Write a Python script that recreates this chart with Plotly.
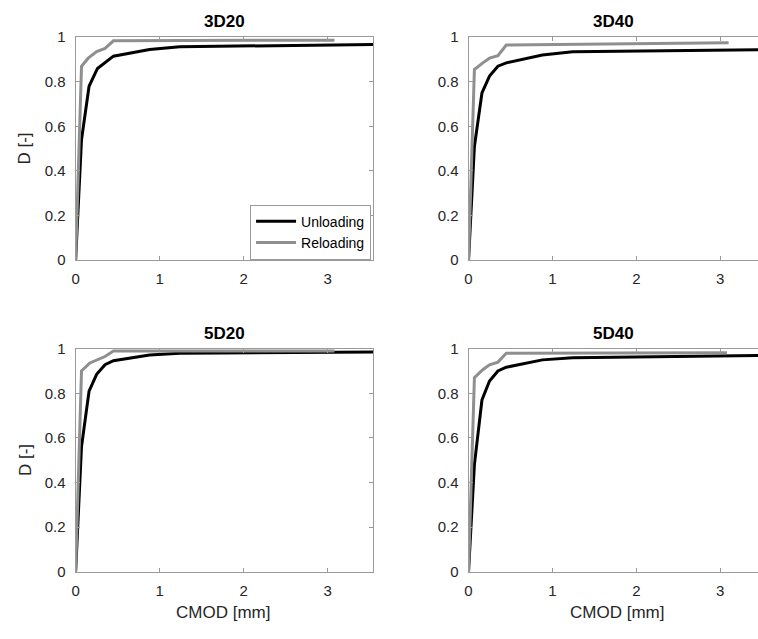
import plotly.graph_objects as go

W, H = 758, 639

titles = ["3D20", "3D40", "5D20", "5D40"]

# Unloading (black) curves
unl_x = [
    [0, 0.07, 0.16, 0.26, 0.45, 0.88, 1.24, 3.6],
    [0, 0.07, 0.16, 0.25, 0.35, 0.45, 0.88, 1.24, 3.6],
    [0, 0.07, 0.16, 0.25, 0.35, 0.45, 0.88, 1.24, 3.6],
    [0, 0.07, 0.16, 0.25, 0.35, 0.45, 0.88, 1.24, 3.6],
]
unl_y = [
    [0, 0.54, 0.78, 0.86, 0.915, 0.945, 0.957, 0.968],
    [0, 0.51, 0.75, 0.826, 0.87, 0.885, 0.92, 0.935, 0.945],
    [0, 0.56, 0.81, 0.885, 0.928, 0.946, 0.972, 0.98, 0.985],
    [0, 0.48, 0.77, 0.855, 0.90, 0.917, 0.95, 0.96, 0.97],
]
# Reloading (gray) curves
rel_x = [
    [0, 0.07, 0.15, 0.25, 0.35, 0.45, 3.08],
    [0, 0.07, 0.17, 0.25, 0.35, 0.45, 3.10],
    [0, 0.07, 0.17, 0.25, 0.35, 0.45, 3.08],
    [0, 0.07, 0.17, 0.25, 0.35, 0.45, 3.08],
]
rel_y = [
    [0, 0.87, 0.906, 0.936, 0.95, 0.984, 0.987],
    [0, 0.855, 0.885, 0.906, 0.917, 0.965, 0.975],
    [0, 0.90, 0.936, 0.95, 0.965, 0.99, 0.99],
    [0, 0.87, 0.906, 0.928, 0.94, 0.98, 0.982],
]

x_ticks = [0, 1, 2, 3]
y_ticks = [0, 0.2, 0.4, 0.6, 0.8, 1]
y_tick_text = ["0", "0.2", "0.4", "0.6", "0.8", "1"]

# pixel boxes (left, right, top, bottom)
boxes = [(72, 371, 29, 258), (467, 758, 29, 258), (72, 371, 349, 578), (467, 758, 349, 578)]
xranges = [[0, 3.54], [0, 3.45], [0, 3.54], [0, 3.45]]

BLACK = "#000000"
GRAY = "#8f8f8f"
AX = "#9a9a9a"
TXT = "#262626"
FONT = "Liberation Sans"

fig = go.Figure()
annotations = []
for i in range(4):
    l, r, t, b = boxes[i]
    xs = "x" if i == 0 else f"x{i+1}"
    ys = "y" if i == 0 else f"y{i+1}"
    fig.add_trace(go.Scatter(x=unl_x[i], y=unl_y[i], mode="lines", name="Unloading",
                             line=dict(color=BLACK, width=3), xaxis=xs, yaxis=ys,
                             showlegend=(i == 0)))
    fig.add_trace(go.Scatter(x=rel_x[i], y=rel_y[i], mode="lines", name="Reloading",
                             line=dict(color=GRAY, width=3), xaxis=xs, yaxis=ys,
                             showlegend=(i == 0)))
    right = i in (1, 3)
    xa = dict(domain=[l / W, r / W], range=xranges[i], anchor=ys,
              tickvals=x_ticks, ticks="inside", ticklen=4, tickcolor=AX,
              showline=True, linecolor=AX, linewidth=1, mirror="ticks",
              showgrid=False, zeroline=False, ticklabelstandoff=5,
              tickfont=dict(family=FONT, size=15, color=TXT))
    ya = dict(domain=[1 - b / H, 1 - t / H], range=[0, 1], anchor=xs,
              tickvals=y_ticks, ticktext=y_tick_text, ticks="inside", ticklen=4,
              tickcolor=AX, showline=True, linecolor=AX, linewidth=1,
              mirror=(False if right else "ticks"),
              showgrid=False, zeroline=False, ticklabelstandoff=6,
              tickfont=dict(family=FONT, size=15, color=TXT))
    key = "" if i == 0 else str(i + 1)
    fig.update_layout(**{f"xaxis{key}": xa, f"yaxis{key}": ya})
    cx = (l + r) / 2 if not right else 613
    annotations.append(dict(text=f"<b>{titles[i]}</b>", x=cx / W, y=1 - (t - 16) / H,
                            xref="paper", yref="paper", showarrow=False,
                            font=dict(family=FONT, size=17, color="#000000"),
                            xanchor="center", yanchor="middle"))
    if i in (0, 2):
        annotations.append(dict(text="D [-]", x=21 / W, y=1 - ((t + b) / 2) / H,
                                xref="paper", yref="paper", showarrow=False, textangle=-90,
                                font=dict(family=FONT, size=17, color=TXT),
                                xanchor="center", yanchor="middle"))
    if i in (2, 3):
        annotations.append(dict(text="CMOD [mm]", x=(220 if i == 2 else 616) / W,
                                y=1 - 620 / H, xref="paper", yref="paper", showarrow=False,
                                font=dict(family=FONT, size=17, color=TXT),
                                xanchor="center", yanchor="middle"))

fig.update_layout(
    width=W, height=H, margin=dict(l=0, r=0, t=0, b=0),
    paper_bgcolor="white", plot_bgcolor="white",
    annotations=annotations,
    legend=dict(x=369 / W, y=1 - 201 / H, xanchor="right", yanchor="top",
                bgcolor="white", bordercolor=AX, borderwidth=1,
                font=dict(family=FONT, size=14, color="#000000"),
                tracegroupgap=0, itemwidth=40),
)

fig.write_html("out.html")
